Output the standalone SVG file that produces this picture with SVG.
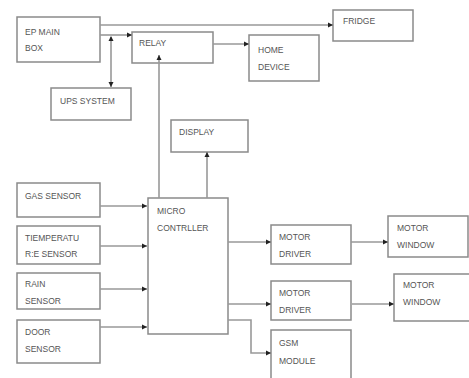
<svg xmlns="http://www.w3.org/2000/svg" width="469" height="378" viewBox="0 0 469 378">
<style>
.box{fill:#fff;stroke:#8a8a8a;stroke-width:1.5}
.t{font-family:"Liberation Sans",Arial,sans-serif;font-size:8.5px;fill:#555}
.c{fill:none;stroke:#999;stroke-width:1.6}
</style>
<defs>
<marker id="ah" markerWidth="6" markerHeight="6" refX="5" refY="3" orient="auto" markerUnits="userSpaceOnUse">
<path d="M0,0.5 L5,3 L0,5.5 Z" fill="#222"/>
</marker>
<marker id="as" markerWidth="6" markerHeight="6" refX="1" refY="3" orient="auto" markerUnits="userSpaceOnUse">
<path d="M5,0.5 L0,3 L5,5.5 Z" fill="#222"/>
</marker>
</defs>
<rect width="469" height="378" fill="#fff"/>
<g id="ep-main-box"><rect class="box" x="17" y="17" width="83" height="45"/><text class="t" x="25" y="35">EP MAIN</text><text class="t" x="25" y="51">BOX</text></g>
<g id="relay"><rect class="box" x="132" y="32" width="81" height="31"/><text class="t" x="139" y="46">RELAY</text></g>
<g id="ups-system"><rect class="box" x="51" y="88" width="80" height="32"/><text class="t" x="60" y="104">UPS SYSTEM</text></g>
<g id="fridge"><rect class="box" x="333" y="10" width="80" height="31"/><text class="t" x="343" y="24">FRIDGE</text></g>
<g id="home-device"><rect class="box" x="249" y="35" width="70" height="46"/><text class="t" x="258" y="53">HOME</text><text class="t" x="258" y="70">DEVICE</text></g>
<g id="display"><rect class="box" x="171" y="120" width="77" height="32"/><text class="t" x="179" y="135">DISPLAY</text></g>
<g id="gas-sensor"><rect class="box" x="17" y="183" width="83" height="34"/><text class="t" x="25" y="199">GAS SENSOR</text></g>
<g id="temperature-sensor"><rect class="box" x="17" y="226" width="83" height="38"/><text class="t" x="25" y="241">TIEMPERATU</text><text class="t" x="25" y="257">R:E SENSOR</text></g>
<g id="rain-sensor"><rect class="box" x="17" y="273" width="83" height="36"/><text class="t" x="25" y="287">RAIN</text><text class="t" x="25" y="304">SENSOR</text></g>
<g id="door-sensor"><rect class="box" x="17" y="320" width="83" height="43"/><text class="t" x="25" y="335">DOOR</text><text class="t" x="25" y="352">SENSOR</text></g>
<g id="micro-controller"><rect class="box" x="148" y="198" width="80" height="136"/><text class="t" x="157" y="214">MICRO</text><text class="t" x="157" y="231">CONTRLLER</text></g>
<g id="motor-driver-1"><rect class="box" x="271" y="225" width="80" height="39"/><text class="t" x="279" y="240">MOTOR</text><text class="t" x="279" y="257">DRIVER</text></g>
<g id="motor-window-1"><rect class="box" x="388" y="216" width="80" height="41"/><text class="t" x="397" y="231">MOTOR</text><text class="t" x="397" y="248">WINDOW</text></g>
<g id="motor-driver-2"><rect class="box" x="271" y="281" width="80" height="39"/><text class="t" x="279" y="296">MOTOR</text><text class="t" x="279" y="313">DRIVER</text></g>
<g id="motor-window-2"><rect class="box" x="394" y="274" width="76" height="47"/><text class="t" x="403" y="288">MOTOR</text><text class="t" x="403" y="305">WINDOW</text></g>
<g id="gsm-module"><path class="box" d="M271,380 V330 H351 V380"/><text class="t" x="279" y="346">GSM</text><text class="t" x="279" y="364">MODULE</text></g>
<g id="connectors">
<path class="c" d="M100,25 H333" marker-end="url(#ah)"/>
<path class="c" d="M100,35 H132" marker-end="url(#ah)"/>
<path class="c" d="M111,37 V87" marker-start="url(#as)" marker-end="url(#ah)"/>
<path class="c" d="M213,44 H249" marker-end="url(#ah)"/>
<path class="c" d="M159,198 V55" marker-end="url(#ah)"/>
<path class="c" d="M207,198 V152" marker-end="url(#ah)"/>
<path class="c" d="M100,206 H147" marker-end="url(#ah)"/>
<path class="c" d="M100,246 H147" marker-end="url(#ah)"/>
<path class="c" d="M100,289 H147" marker-end="url(#ah)"/>
<path class="c" d="M100,327 H147" marker-end="url(#ah)"/>
<path class="c" d="M228,242 H271" marker-end="url(#ah)"/>
<path class="c" d="M351,242 H388" marker-end="url(#ah)"/>
<path class="c" d="M228,304 H271" marker-end="url(#ah)"/>
<path class="c" d="M352,304 H394" marker-end="url(#ah)"/>
<path class="c" d="M228,320 H251 V353 H271" marker-end="url(#ah)"/>
</g>
</svg>
